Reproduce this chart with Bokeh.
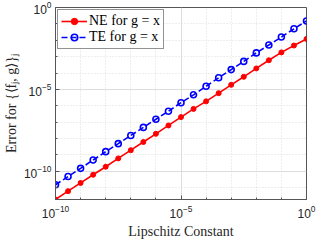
import numpy as np
from bokeh.plotting import figure
from bokeh.models import Range1d, FixedTicker, LogTickFormatter
from bokeh.embed import file_html
from bokeh.resources import INLINE

# Lipschitz constants (log10), half-decade steps
log_L = [-10.0, -9.5, -9.0, -8.5, -8.0, -7.5, -7.0, -6.5, -6.0, -5.5, -5.0,
         -4.5, -4.0, -3.5, -3.0, -2.5, -2.0, -1.5, -1.0, -0.5, 0.0]
# NE error (log10)
log_NE = [-11.72, -11.21, -10.71, -10.21, -9.72, -9.21, -8.71, -8.21, -7.71, -7.20, -6.69,
          -6.19, -5.73, -5.23, -4.72, -4.23, -3.72, -3.22, -2.74, -2.32, -1.92]
# TE error (log10)
log_TE = [-10.82, -10.32, -9.82, -9.31, -8.80, -8.31, -7.81, -7.32, -6.82, -6.33, -5.81,
          -5.33, -4.81, -4.29, -3.79, -3.29, -2.77, -2.29, -1.80, -1.30, -0.82]

x_major = [-10, -5, 0]
y_major = [-10, -5, 0]

L = [10 ** v for v in log_L]
NE = [10 ** v for v in log_NE]
TE = [10 ** v for v in log_TE]

p = figure(width=316, height=241, x_axis_type="log", y_axis_type="log",
           output_backend="svg", toolbar_location=None,
           x_range=Range1d(1e-10, 1.0), y_range=Range1d(min(NE), 1.0),
           min_border_left=49, min_border_right=10, min_border_top=7, min_border_bottom=38)
p.background_fill_color = "white"
p.border_fill_color = "white"
p.outline_line_color = "#555555"
p.outline_line_width = 1

# ticks
xmin = [10.0 ** k for k in range(-10, 1) if k not in x_major]
ymin = [10.0 ** k for k in range(-12, 1) if k not in y_major]
p.xaxis.ticker = FixedTicker(ticks=[10.0 ** k for k in x_major], minor_ticks=xmin)
p.yaxis.ticker = FixedTicker(ticks=[10.0 ** k for k in y_major], minor_ticks=ymin)
p.axis.formatter = LogTickFormatter()
p.axis.major_tick_in = 4
p.axis.major_tick_out = 0
p.axis.minor_tick_in = 2
p.axis.minor_tick_out = 0
p.axis.axis_line_color = "#555555"
p.axis.major_tick_line_color = "#555555"
p.axis.minor_tick_line_color = "#555555"
p.axis.major_label_text_font = "Liberation Sans"
p.axis.major_label_text_font_size = "12px"
p.axis.major_label_text_color = "#262626"
p.axis.axis_label_text_font = "Liberation Serif"
p.axis.axis_label_text_font_size = "14px"
p.axis.axis_label_text_font_style = "normal"
p.axis.axis_label_text_color = "#262626"
p.xaxis.major_label_standoff = 5
p.yaxis.major_label_standoff = 4
p.xaxis.axis_label_standoff = 3
p.yaxis.axis_label_standoff = 2
p.xaxis.axis_label = "Lipschitz Constant"
p.yaxis.axis_label = "Error for {⟨fⱼ, g⟩}ⱼ"

# grid
p.grid.grid_line_color = "#dddddd"
p.grid.grid_line_width = 1
p.grid.minor_grid_line_color = "#dddddd"
p.grid.minor_grid_line_dash = "1 2"

# series
p.line(L, NE, line_color="#ff0000", line_width=1.6, legend_label="NE for g = x")
p.scatter(L, NE, marker="circle", size=5, fill_color="#ff0000", line_color="#ff0000",
          legend_label="NE for g = x")
p.line(L, TE, line_color="#0000ff", line_width=1.6, line_dash="6 3", legend_label="TE for g = x")
p.scatter(L, TE, marker="circle", size=6, fill_color=None, line_color="#0000ff",
          line_width=1.6, legend_label="TE for g = x")

lg = p.legend[0]
lg.location = "top_left"
lg.margin = 2
lg.padding = 3
lg.spacing = 0
lg.label_text_font = "Liberation Serif"
lg.label_text_font_size = "14px"
lg.label_text_color = "#000000"
lg.label_height = 16
lg.glyph_height = 16
lg.glyph_width = 26
lg.label_standoff = 2
lg.border_line_color = "#262626"
lg.border_line_width = 1
lg.background_fill_color = "white"
lg.background_fill_alpha = 1.0

open("out.html", "w").write(file_html(p, INLINE))
